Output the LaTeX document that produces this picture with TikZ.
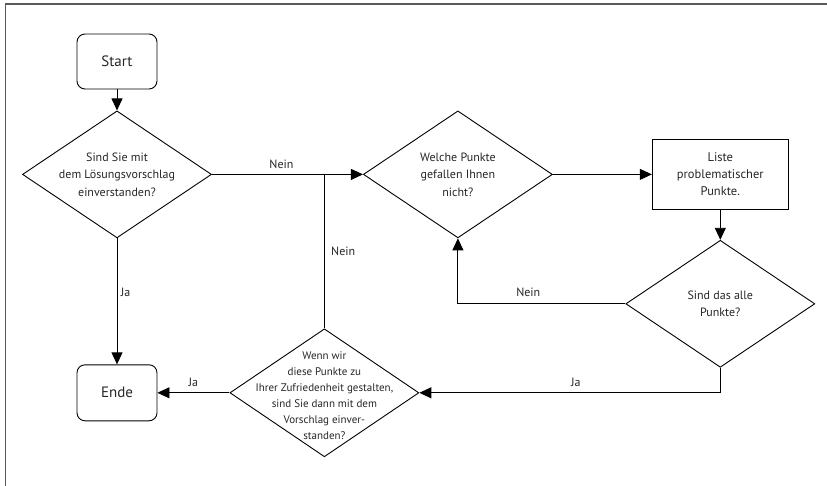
\documentclass[tikz,border=0pt]{standalone}
\usepackage{fontspec}
\setmainfont{PT Sans}
\usetikzlibrary{positioning,shapes.geometric,arrows.meta}
\tikzset{
  term/.style={draw, rounded corners=8pt, minimum width=80pt,
        minimum height=55pt, font=\fontsize{15}{18}\selectfont},
  proc/.style={draw, align=center, minimum width=136pt, minimum height=70pt,
        font=\fontsize{12.5}{17}\selectfont},
  dec/.style={draw, diamond, inner sep=0pt, minimum width=189pt,
        minimum height=127pt},
  dtext/.style={align=center, font=\fontsize{12}{17.5}\selectfont},
  stext/.style={align=center, font=\fontsize{11}{16}\selectfont},
  lab/.style={font=\fontsize{12}{14}\selectfont},
  flow/.style={-{Triangle[length=12pt,width=11pt]}}
}

\begin{document}
\begin{tikzpicture}[x=1pt, y=1pt, line width=0.9pt, text=black!85]
        \useasboundingbox (0,0) rectangle (827,-486);
        \draw[black!65, line width=1.6pt] (5.5,-486) -- (5.5,-4) -- (827,-4);

        \node[term] (0) at (117,-61.5) {Start};

        \node[dec, below=21pt of 0,
            label={[dtext]center:{Sind Sie mit\\dem Lösungsvorschlag\\einverstanden?}}] (1) {};

        \node[dec, right=151pt of 1,
            label={[dtext]center:{Welche Punkte\\gefallen Ihnen\\nicht?}}] (2) {};

        \node[proc, right=99pt of 2] (3)
            {Liste\\problematischer\\Punkte.};

        \node[dec, below=30pt of 3,
            label={[dtext]center:{Sind das alle\\Punkte?}}] (4) {};

        \node[term, below=126pt of 1, minimum height=56pt] (5) {Ende};

        \node[dec, right=72pt of 5, minimum height=128pt,
            label={[stext, yshift=-3pt]center:{Wenn wir\\diese Punkte zu\\Ihrer Zufriedenheit gestalten,\\sind Sie dann mit dem\\Vorschlag einver-\\standen?}}] (6) {};

        \coordinate (j) at (6.north |- 1.east);

        \draw[flow] (0) to (1);
        \draw[flow] (1) to node[lab, pos=0.46, above=2pt] {Nein} (2);
        \draw[flow] (1) to node[lab, pos=0.43, right] {Ja} (5);
        \draw[flow] (2) to (3);
        \draw[flow] (3) to (4);
        \draw[flow] (4.west) -| node[lab, pos=0.29, above=3pt] {Nein} (2.south);
        \draw[flow] (4.south) |- node[lab, pos=0.74, above=2pt] {Ja} (6.east);
        \draw[flow] (6) to node[lab, midway, above=2pt] {Ja} (5);
        \draw (6.north) to node[lab, midway, right, xshift=3pt] {Nein} (j);

    \end{tikzpicture}
\end{document}
